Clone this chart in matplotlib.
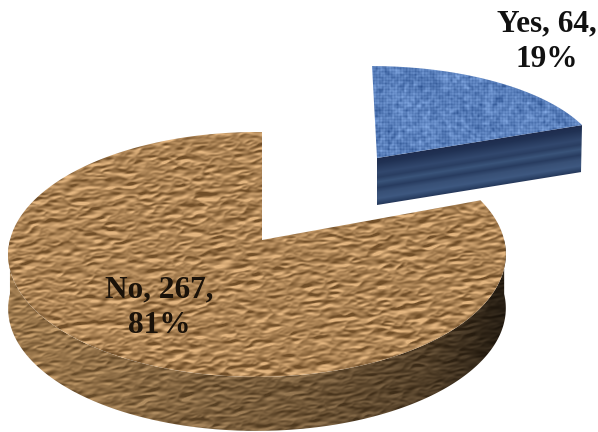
import numpy as np
import matplotlib
matplotlib.use("Agg")
import matplotlib.pyplot as plt
from matplotlib.patches import Polygon

# data
labels = ["Yes", "No"]
counts = [64, 267]
percents = [19, 81]

W, H = 598, 432


def blur(a, sx, sy):
    """Gaussian blur through the fft, wraps round the edges."""
    fy = np.fft.fftfreq(a.shape[0])[:, None]
    fx = np.fft.fftfreq(a.shape[1])[None, :]
    g = np.exp(-2*np.pi**2*((fx*sx)**2 + (fy*sy)**2))
    return np.fft.ifft2(np.fft.fft2(a)*g).real


def crumple(seed, shear=0.45):
    """Embossed crumpled paper, roughly -1..1."""
    rng = np.random.default_rng(seed)
    n = blur(rng.normal(size=(H, W)), 7.0, 2.6) * 3 + blur(rng.normal(size=(H, W)), 3.0, 1.2)
    # folded ridges look sharper than plain noise
    n = np.abs(n)
    yy, xx = np.mgrid[0:H, 0:W]
    n = n[yy, (xx + (yy*shear).astype(int)) % W]
    relief = np.roll(n, 1, axis=0) - np.roll(n, -1, axis=0) + 0.4*(np.roll(n, 1, axis=1) - np.roll(n, -1, axis=1))
    relief = blur(relief, 0.6, 0.6)
    return np.clip(relief/(2.0*relief.std()), -1, 1)


def weave(seed):
    """Fine cloth for the blue slice."""
    rng = np.random.default_rng(seed)
    yy, xx = np.mgrid[0:H, 0:W]
    cloth = 0.35*np.sin(xx*2.1) + 0.35*np.sin(yy*2.1)
    cloth = cloth + 1.1*blur(rng.normal(size=(H, W)), 1.0, 1.0) + 2.5*blur(rng.normal(size=(H, W)), 7, 7)
    return np.clip(blur(cloth, 0.6, 0.6), -1.2, 1.2)


def project(theta, p):
    """Slice angle (clockwise from 12 o'clock) to picture pixels, a flat disc in perspective."""
    u, v = np.sin(theta), -np.cos(theta)
    d = 1 + p["c"]*v + p["e"]*u
    x = p["x0"] + (p["R"]*u + p["s"]*v)/d
    y = (p["a"]*v + p["f"]*u + p["y0"])/d
    return x, y


def show(ax, rgb, clip_pts, z):
    patch = Polygon(clip_pts, closed=True, transform=ax.transData, fc="none", ec="none")
    ax.add_patch(patch)
    im = ax.imshow(rgb, extent=(0, W, H, 0), interpolation="bilinear", zorder=z)
    im.set_clip_path(patch)


def colour(base, tex, amp):
    return np.clip(np.array(base)[None, None, :] + tex[..., None]*np.array(amp)[None, None, :], 0, 255)/255


total = sum(counts)
yes_angle = 2*np.pi*counts[0]/total

disc_no = dict(x0=262, y0=240, R=247, s=0, a=92.4, f=4.8, c=-0.118, e=0.02)
disc_yes = dict(x0=377, y0=158, R=224, s=5.2, a=89, f=0, c=-0.044, e=0)
depth_no = 54
depth_yes = 47

fig = plt.figure(figsize=(W/100, H/100), dpi=100)
ax = fig.add_axes([0, 0, 1, 1])

yy, xx = np.mgrid[0:H, 0:W]

# No slice, the side wall first
th = np.linspace(np.pi/2, 3*np.pi/2, 200)
sx, sy = project(th, disc_no)
side_no = np.r_[np.c_[sx, sy], np.c_[sx, sy + depth_no][::-1]]
side_tex = crumple(11, 0.9)
shade = np.interp(xx, [0, 60, 200, 300, 430, 500], [1.0, 0.95, 0.8, 0.72, 0.5, 0.25])
side_rgb = colour((158, 122, 78), side_tex, (48, 42, 34))*shade[..., None]
show(ax, side_rgb, side_no, 1)

# No slice, top
th = np.linspace(yes_angle, 2*np.pi, 300)
tx, ty = project(th, disc_no)
top_no = np.r_[[[disc_no["x0"], disc_no["y0"]]], np.c_[tx, ty]]
show(ax, colour((170, 130, 84), crumple(5), (58, 52, 44)), top_no, 2)

# Yes slice, side wall with its stripes
ex0, ey0 = disc_yes["x0"], disc_yes["y0"]
ex1, ey1 = project(yes_angle, disc_yes)
side_yes = [(ex0, ey0), (ex1, ey1), (ex1 - 1, ey1 + depth_yes), (ex0, ey0 + depth_yes)]
edge_y = ey0 + (xx - ex0)*(ey1 - ey0)/(ex1 - ex0)
t = (yy - edge_y)/depth_yes
stops = [0, .1, .3, .4, .5, .62, .72, .85, .95, 1]
r = np.interp(t, stops, [30, 33, 50, 42, 58, 40, 56, 62, 42, 34])
g = np.interp(t, stops, [44, 50, 72, 62, 84, 60, 80, 88, 64, 50])
b = np.interp(t, stops, [78, 84, 110, 98, 122, 96, 118, 128, 100, 84])
show(ax, np.dstack([r, g, b])/255, side_yes, 3)

# Yes slice, top
th = np.linspace(0, yes_angle, 120)
tx, ty = project(th, disc_yes)
top_yes = np.r_[[[ex0, ey0]], np.c_[tx, ty]]
show(ax, colour((92, 130, 190), weave(3), (38, 38, 36)), top_yes, 4)

# labels
ax.text(547, 42, "%s, %d,\n%d%%" % (labels[0], counts[0], percents[0]), ha="center", va="center",
        family="Liberation Serif", weight="bold", fontsize=22.5, color="#111111", linespacing=1.3, zorder=6)
ax.text(159, 308, "%s, %d,\n%d%%" % (labels[1], counts[1], percents[1]), ha="center", va="center",
        family="Liberation Serif", weight="bold", fontsize=22.5, color="#1a1209", linespacing=1.3, zorder=6)

ax.set_xlim(0, W)
ax.set_ylim(H, 0)
ax.axis("off")
fig.savefig("out.png", dpi=100)
